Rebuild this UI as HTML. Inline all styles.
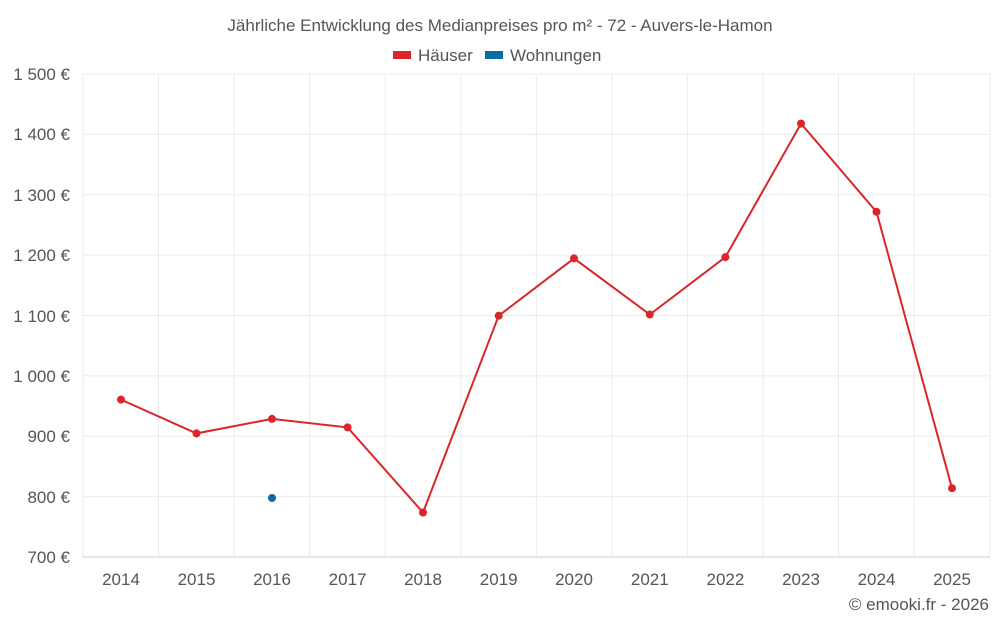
<!DOCTYPE html>
<html><head><meta charset="utf-8"><style>
body{margin:0;background:#fff;}
text{font-family:"Liberation Sans",sans-serif;fill:#555;}
</style></head><body>
<svg width="1000" height="625" viewBox="0 0 1000 625" xmlns="http://www.w3.org/2000/svg">
<text x="500" y="31" text-anchor="middle" font-size="17">Jährliche Entwicklung des Medianpreises pro m² - 72 - Auvers-le-Hamon</text>
<rect x="393" y="51" width="18" height="8" fill="#d9262b"/>
<text x="418" y="61" font-size="17">Häuser</text>
<rect x="485" y="51" width="18" height="8" fill="#0e6aa3"/>
<text x="510" y="61" font-size="17">Wohnungen</text>
<g stroke="#ebebeb" stroke-width="1">
<line x1="83" y1="74" x2="990" y2="74"/><line x1="83" y1="134.4" x2="990" y2="134.4"/>
<line x1="83" y1="194.8" x2="990" y2="194.8"/><line x1="83" y1="255.1" x2="990" y2="255.1"/>
<line x1="83" y1="315.5" x2="990" y2="315.5"/><line x1="83" y1="375.9" x2="990" y2="375.9"/>
<line x1="83" y1="436.3" x2="990" y2="436.3"/><line x1="83" y1="496.6" x2="990" y2="496.6"/>
<line x1="83" y1="74" x2="83" y2="557"/><line x1="158.5" y1="74" x2="158.5" y2="557"/>
<line x1="234" y1="74" x2="234" y2="557"/><line x1="309.6" y1="74" x2="309.6" y2="557"/>
<line x1="385.2" y1="74" x2="385.2" y2="557"/><line x1="460.7" y1="74" x2="460.7" y2="557"/>
<line x1="536.3" y1="74" x2="536.3" y2="557"/><line x1="611.8" y1="74" x2="611.8" y2="557"/>
<line x1="687.4" y1="74" x2="687.4" y2="557"/><line x1="763" y1="74" x2="763" y2="557"/>
<line x1="838.5" y1="74" x2="838.5" y2="557"/><line x1="914" y1="74" x2="914" y2="557"/>
<line x1="990" y1="74" x2="990" y2="557"/>
</g>
<line x1="83" y1="557" x2="990" y2="557" stroke="#ccc"/>
<g font-size="17" text-anchor="end">
<text x="70" y="80">1 500 €</text><text x="70" y="140">1 400 €</text><text x="70" y="201">1 300 €</text>
<text x="70" y="261">1 200 €</text><text x="70" y="322">1 100 €</text><text x="70" y="382">1 000 €</text>
<text x="70" y="442">900 €</text><text x="70" y="503">800 €</text><text x="70" y="563">700 €</text>
</g>
<g font-size="17" text-anchor="middle">
<text x="121" y="585">2014</text><text x="196.5" y="585">2015</text><text x="272" y="585">2016</text>
<text x="347.6" y="585">2017</text><text x="423" y="585">2018</text><text x="498.7" y="585">2019</text>
<text x="574" y="585">2020</text><text x="649.8" y="585">2021</text><text x="725.4" y="585">2022</text>
<text x="801" y="585">2023</text><text x="876.5" y="585">2024</text><text x="952" y="585">2025</text>
</g>
<polyline fill="none" stroke="#d9262b" stroke-width="2" points="121,399.6 196.5,433.4 272,418.9 347.6,427.4 423,512.5 498.7,315.7 574,258.4 649.8,314.5 725.4,257.1 801,123.6 876.5,211.8 952,488.2"/>
<g fill="#d9262b">
<circle cx="121" cy="399.6" r="4"/><circle cx="196.5" cy="433.4" r="4"/><circle cx="272" cy="418.9" r="4"/>
<circle cx="347.6" cy="427.4" r="4"/><circle cx="423" cy="512.5" r="4"/><circle cx="498.7" cy="315.7" r="4"/>
<circle cx="574" cy="258.4" r="4"/><circle cx="649.8" cy="314.5" r="4"/><circle cx="725.4" cy="257.1" r="4"/>
<circle cx="801" cy="123.6" r="4"/><circle cx="876.5" cy="211.8" r="4"/><circle cx="952" cy="488.2" r="4"/>
</g>
<circle cx="272" cy="498" r="4" fill="#0e6aa3"/>
<text x="989" y="610" font-size="17" text-anchor="end">© emooki.fr - 2026</text>
</svg>
</body></html>
